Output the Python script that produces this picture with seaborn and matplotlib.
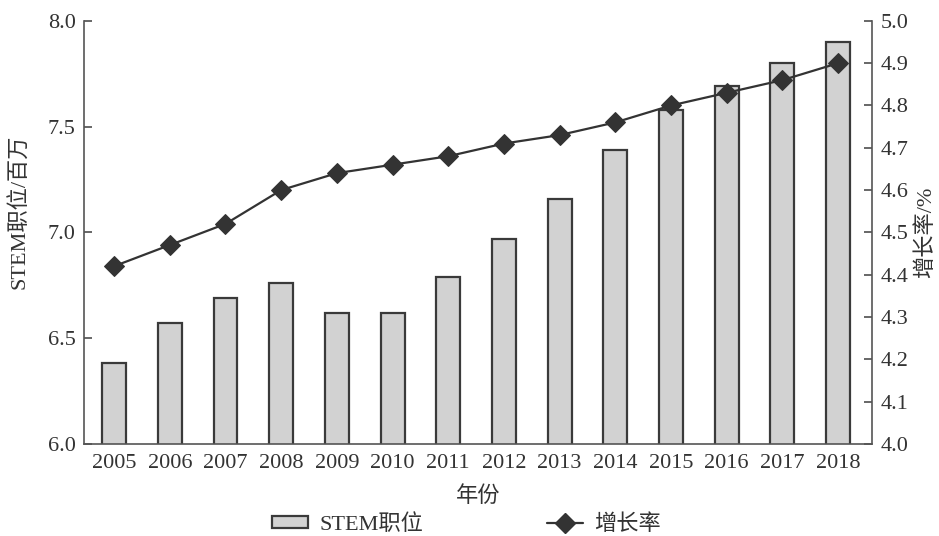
import matplotlib
matplotlib.use("Agg")
import matplotlib.pyplot as plt
import seaborn as sns
import pandas as pd
from matplotlib.patches import Patch
from matplotlib.lines import Line2D

years = ["2005", "2006", "2007", "2008", "2009", "2010", "2011",
         "2012", "2013", "2014", "2015", "2016", "2017", "2018"]
stem_jobs = [6.38, 6.57, 6.69, 6.76, 6.62, 6.62, 6.79,
             6.97, 7.16, 7.39, 7.58, 7.69, 7.80, 7.90]
growth_rate = [4.42, 4.47, 4.52, 4.60, 4.64, 4.66, 4.68,
               4.71, 4.73, 4.76, 4.80, 4.83, 4.86, 4.90]
left_ticks = [6.0, 6.5, 7.0, 7.5, 8.0]
right_ticks = [4.0, 4.1, 4.2, 4.3, 4.4, 4.5, 4.6, 4.7, 4.8, 4.9, 5.0]

sns.set_theme(style="white")
plt.rcParams["font.family"] = ["Liberation Serif", "Noto Sans CJK SC"]
plt.rcParams["axes.unicode_minus"] = False

ink = "#333333"
fs = 16
df = pd.DataFrame({"年份": years, "STEM职位": stem_jobs, "增长率": growth_rate})
df["pos"] = range(len(df))

fig = plt.figure(figsize=(9.39, 5.36), dpi=100)
ax = fig.add_axes([0.0895, 0.172, 0.8392, 0.789])

sns.barplot(data=df, x="年份", y="STEM职位", ax=ax, color="#d2d2d2",
            edgecolor="#3a3a3a", linewidth=1.6, width=0.43, saturation=1)
ax.set_ylim(6.0, 8.0)
ax.set_xlim(-0.54, len(years) - 1 + 0.61)
ax.set_yticks(left_ticks)
ax.set_yticklabels([f"{v:.1f}" for v in left_ticks])
ax.set_xticks(range(len(years)))
ax.set_xticklabels(years)
ax.set_xticks([i + 0.5 for i in range(len(years) - 1)], minor=True)
ax.tick_params(axis="x", which="major", length=0, labelsize=fs, colors=ink, pad=7)
ax.tick_params(axis="x", which="minor", direction="in", length=5, color="#555555", width=1)
ax.tick_params(axis="y", direction="in", length=6, labelsize=fs, colors=ink, color="#555555", pad=6)
ax.set_xlabel("年份", fontsize=fs, color=ink, labelpad=10)
ax.set_ylabel("STEM职位/百万", fontsize=fs, color=ink)
ax.yaxis.set_label_coords(-0.068, 0.548)
for s in ["top", "right"]:
    ax.spines[s].set_visible(False)
for s in ["left", "bottom"]:
    ax.spines[s].set_color("#555555")
    ax.spines[s].set_linewidth(1.2)

ax2 = ax.twinx()
sns.lineplot(data=df, x="pos", y="增长率", ax=ax2, color="#333333",
             marker="D", markersize=10, linewidth=1.6, markeredgecolor="#333333")
ax2.set_ylim(4.0, 5.0)
ax2.set_yticks(right_ticks)
ax2.set_yticklabels([f"{v:.1f}" for v in right_ticks])
ax2.tick_params(axis="y", direction="in", length=6, labelsize=fs, colors=ink, color="#555555", pad=6)
ax2.set_ylabel("增长率/%", fontsize=fs, color=ink, labelpad=5)
ax2.set_xlabel("")
ax2.spines["top"].set_visible(False)
ax2.spines["left"].set_visible(False)
ax2.spines["bottom"].set_visible(False)
ax2.spines["right"].set_color("#555555")
ax2.spines["right"].set_linewidth(1.2)

handles = [
    Patch(facecolor="#d2d2d2", edgecolor="#3a3a3a", linewidth=1.6, label="STEM职位"),
    Line2D([0], [0], color="#333333", marker="D", markersize=10, linewidth=1.6, label="增长率"),
]
fig.legend(handles=handles, loc="lower center", bbox_to_anchor=(0.497, -0.035), ncol=2,
           frameon=False, fontsize=fs, columnspacing=5.6, handlelength=1.6,
           handleheight=0.45, handletextpad=0.5, labelcolor=ink)

fig.savefig("out.png", dpi=100)
